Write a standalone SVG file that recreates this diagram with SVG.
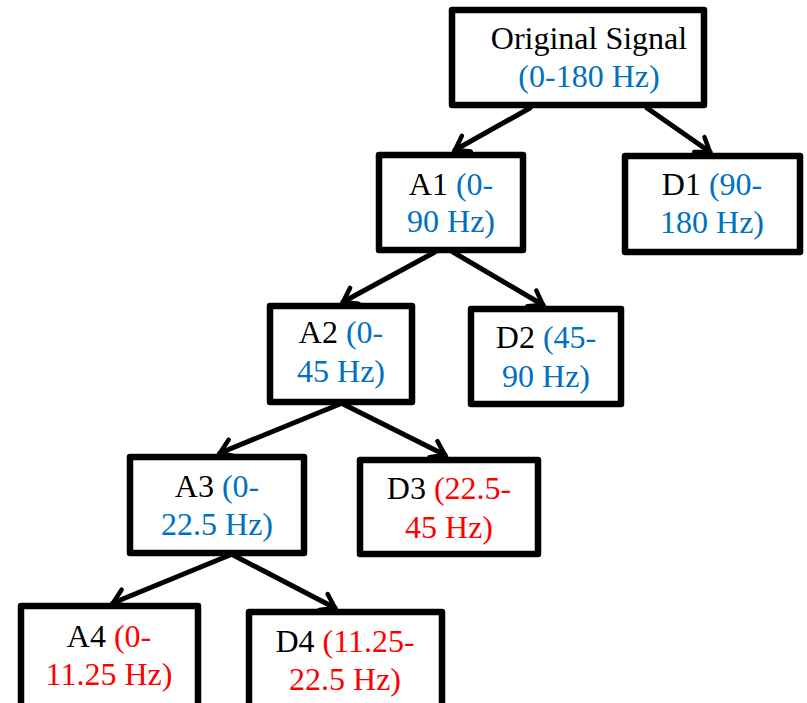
<svg xmlns="http://www.w3.org/2000/svg" width="807" height="703" viewBox="0 0 807 703">
<defs>
<style>
.box{fill:#fff;stroke:#000;stroke-width:6.5;stroke-linejoin:round}
.t{font-family:"Liberation Serif","Times New Roman",serif;font-size:32px;fill:#000;text-anchor:middle}
.b{fill:#0070C0}
.r{fill:#FF0000}
.c{stroke:#000;stroke-width:5;fill:none;stroke-linecap:round}
</style>
<marker id="ah" viewBox="0 0 20 20" refX="18" refY="10" markerWidth="20" markerHeight="20" markerUnits="userSpaceOnUse" orient="auto" overflow="visible">
<path d="M5,1 L18,10 L5,19" fill="none" stroke="#000" stroke-width="4.5" stroke-linecap="round" stroke-linejoin="miter"/>
</marker>
</defs>
<rect width="807" height="703" fill="#fff"/>
<g id="connectors">
<line class="c" x1="530" y1="108" x2="455" y2="150" marker-end="url(#ah)"/>
<line class="c" x1="647" y1="108" x2="710" y2="152" marker-end="url(#ah)"/>
<line class="c" x1="435" y1="252" x2="343" y2="302" marker-end="url(#ah)"/>
<line class="c" x1="453" y1="252" x2="543" y2="305" marker-end="url(#ah)"/>
<line class="c" x1="340" y1="404" x2="220" y2="453" marker-end="url(#ah)"/>
<line class="c" x1="343" y1="404" x2="445" y2="455" marker-end="url(#ah)"/>
<line class="c" x1="230" y1="555" x2="113" y2="603" marker-end="url(#ah)"/>
<line class="c" x1="233" y1="555" x2="335" y2="608" marker-end="url(#ah)"/>
</g>
<g id="original">
<rect class="box" x="452" y="10" width="252" height="95"/>
<text class="t" x="589" y="49">Original Signal</text>
<text class="t b" x="589" y="87">(0-180 Hz)</text>
</g>
<g id="A1">
<rect class="box" x="379" y="155" width="144" height="95"/>
<text class="t" x="451" y="195">A1 <tspan class="b">(0-</tspan></text>
<text class="t b" x="451" y="232">90 Hz)</text>
</g>
<g id="D1">
<rect class="box" x="625" y="156" width="175" height="96"/>
<text class="t" x="712" y="195">D1 <tspan class="b">(90-</tspan></text>
<text class="t b" x="712" y="233">180 Hz)</text>
</g>
<g id="A2">
<rect class="box" x="270" y="306" width="142" height="96"/>
<text class="t" x="341" y="343">A2 <tspan class="b">(0-</tspan></text>
<text class="t b" x="341" y="382">45 Hz)</text>
</g>
<g id="D2">
<rect class="box" x="471" y="309" width="150" height="95"/>
<text class="t" x="546" y="348">D2 <tspan class="b">(45-</tspan></text>
<text class="t b" x="546" y="387">90 Hz)</text>
</g>
<g id="A3">
<rect class="box" x="130" y="457" width="174" height="96"/>
<text class="t" x="217" y="497">A3 <tspan class="b">(0-</tspan></text>
<text class="t b" x="217" y="535">22.5 Hz)</text>
</g>
<g id="D3">
<rect class="box" x="360" y="460" width="178" height="94"/>
<text class="t" x="449" y="499">D3 <tspan class="r">(22.5-</tspan></text>
<text class="t r" x="449" y="538">45 Hz)</text>
</g>
<g id="A4">
<rect class="box" x="21" y="606" width="177" height="110"/>
<text class="t" x="109" y="647">A4 <tspan class="r">(0-</tspan></text>
<text class="t r" x="109" y="685">11.25 Hz)</text>
</g>
<g id="D4">
<rect class="box" x="249" y="612" width="193" height="110"/>
<text class="t" x="345" y="652">D4 <tspan class="r">(11.25-</tspan></text>
<text class="t r" x="345" y="690">22.5 Hz)</text>
</g>
</svg>
